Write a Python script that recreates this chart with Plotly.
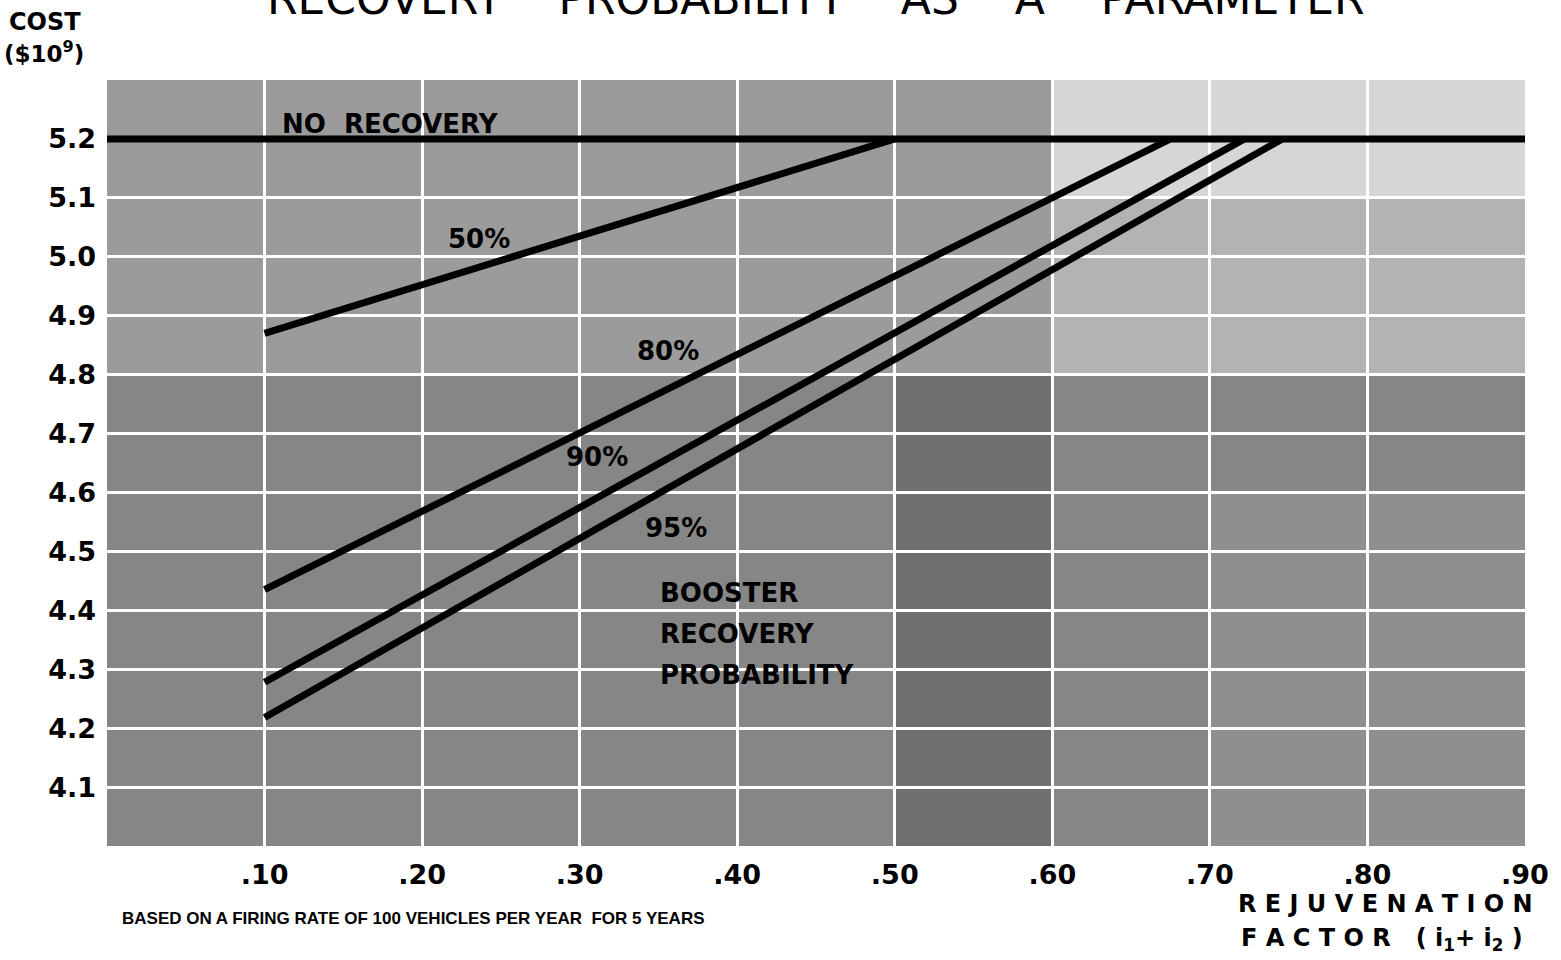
import plotly.graph_objects as go

# Rejuvenation factor (i1 + i2) and cost in $10^9
x_ticks = [0.10, 0.20, 0.30, 0.40, 0.50, 0.60, 0.70, 0.80, 0.90]
x_tick_labels = [".10", ".20", ".30", ".40", ".50", ".60", ".70", ".80", ".90"]
y_ticks = [4.1, 4.2, 4.3, 4.4, 4.5, 4.6, 4.7, 4.8, 4.9, 5.0, 5.1, 5.2]
y_tick_labels = ["4.1", "4.2", "4.3", "4.4", "4.5", "4.6", "4.7", "4.8", "4.9", "5.0", "5.1", "5.2"]

no_recovery_x = [0.0, 0.90]
no_recovery_y = [5.2, 5.2]

rec50_x = [0.10, 0.50]
rec50_y = [4.87, 5.2]

rec80_x = [0.10, 0.675]
rec80_y = [4.435, 5.2]

rec90_x = [0.10, 0.722]
rec90_y = [4.278, 5.2]

rec95_x = [0.10, 0.746]
rec95_y = [4.218, 5.2]

series = [
    ("NO RECOVERY", no_recovery_x, no_recovery_y),
    ("50%", rec50_x, rec50_y),
    ("80%", rec80_x, rec80_y),
    ("90%", rec90_x, rec90_y),
    ("95%", rec95_x, rec95_y),
]

fig = go.Figure()
for name, xs, ys in series:
    fig.add_trace(go.Scatter(x=xs, y=ys, mode="lines", name=name,
                             line=dict(color="black", width=7),
                             showlegend=False, hoverinfo="skip"))

# halftone-grey panels behind the grid
panels = [
    (0.0, 0.90, 4.0, 5.3, "#9b9b9b"),
    (0.0, 0.90, 4.0, 4.8, "#868686"),
    (0.50, 0.60, 4.0, 4.8, "#6f6f6f"),
    (0.60, 0.90, 4.8, 5.3, "#b3b3b3"),
    (0.60, 0.90, 5.1, 5.3, "#d6d6d6"),
    (0.70, 0.90, 4.0, 4.6, "#8f8f8f"),
]
for x0, x1, y0, y1, c in panels:
    fig.add_shape(type="rect", xref="x", yref="y", x0=x0, x1=x1, y0=y0, y1=y1,
                  fillcolor=c, line_width=0, layer="below")

lbl_font = dict(family="DejaVu Sans", size=26, color="black", weight="bold")
labels = [
    ("NO&nbsp;&nbsp;RECOVERY", 0.11, 5.225, "left"),
    ("50%", 0.215, 5.03, "left"),
    ("80%", 0.335, 4.84, "left"),
    ("90%", 0.29, 4.66, "left"),
    ("95%", 0.34, 4.54, "left"),
    ("BOOSTER", 0.35, 4.43, "left"),
    ("RECOVERY", 0.35, 4.36, "left"),
    ("PROBABILITY", 0.35, 4.29, "left"),
]
for txt, x, y, al in labels:
    fig.add_annotation(x=x, y=y, xref="x", yref="y", text=txt, showarrow=False,
                       xanchor=al, yanchor="middle", font=lbl_font)

# page texts (plot area is 1420 x 766 px)
fig.add_annotation(x=0.50, y=1.0 + 82 / 766, xref="paper", yref="paper",
                   text="RECOVERY&nbsp;&nbsp;&nbsp;&nbsp;PROBABILITY&nbsp;&nbsp;&nbsp;&nbsp;AS&nbsp;&nbsp;&nbsp;&nbsp;A&nbsp;&nbsp;&nbsp;&nbsp;PARAMETER",
                   showarrow=False, xanchor="center", yanchor="middle",
                   font=dict(family="DejaVu Sans", size=44, color="black"))
fig.add_annotation(x=-100 / 1420, y=1.0 + 58 / 766, xref="paper", yref="paper",
                   text="COST", showarrow=False, xanchor="left", yanchor="middle",
                   font=dict(family="DejaVu Sans", size=24, color="black", weight="bold"))
fig.add_annotation(x=-105 / 1420, y=1.0 + 28 / 766, xref="paper", yref="paper",
                   text="($10<sup>9</sup>)", showarrow=False, xanchor="left", yanchor="middle",
                   font=dict(family="DejaVu Sans", size=23, color="black", weight="bold"))
fig.add_annotation(x=1.0 + 10 / 1420, y=-58 / 766, xref="paper", yref="paper",
                   text="R E J U V E N A T I O N", showarrow=False, xanchor="right", yanchor="middle",
                   font=dict(family="DejaVu Sans", size=24, color="black", weight="bold"))
fig.add_annotation(x=1.0 + 0 / 1420, y=-93 / 766, xref="paper", yref="paper",
                   text="F A C T O R&nbsp;&nbsp;&nbsp;( i<sub>1</sub>+ i<sub>2</sub> )", showarrow=False,
                   xanchor="right", yanchor="middle",
                   font=dict(family="DejaVu Sans", size=24, color="black", weight="bold"))
fig.add_annotation(x=13 / 1420, y=-72 / 766, xref="paper", yref="paper",
                   text="BASED ON A FIRING RATE OF 100 VEHICLES PER YEAR&nbsp;&nbsp;FOR 5 YEARS",
                   showarrow=False, xanchor="left", yanchor="middle",
                   font=dict(family="Liberation Sans", size=17, color="black", weight="bold"))

tick_font = dict(family="DejaVu Sans", size=27, color="black", weight="bold")
fig.update_layout(
    width=1561, height=960,
    margin=dict(l=107, r=34, t=80, b=114),
    paper_bgcolor="white", plot_bgcolor="#9b9b9b",
    xaxis=dict(range=[0.0, 0.90], tickvals=x_ticks, ticktext=x_tick_labels,
               showgrid=True, gridcolor="white", gridwidth=3, zeroline=False,
               showline=False, ticks="", ticklabelstandoff=10, tickfont=tick_font),
    yaxis=dict(range=[4.0, 5.3], tickvals=y_ticks, ticktext=y_tick_labels,
               showgrid=True, gridcolor="white", gridwidth=3, zeroline=False,
               showline=False, ticks="", ticklabelstandoff=10, tickfont=tick_font),
)

fig.write_html("out.html")
